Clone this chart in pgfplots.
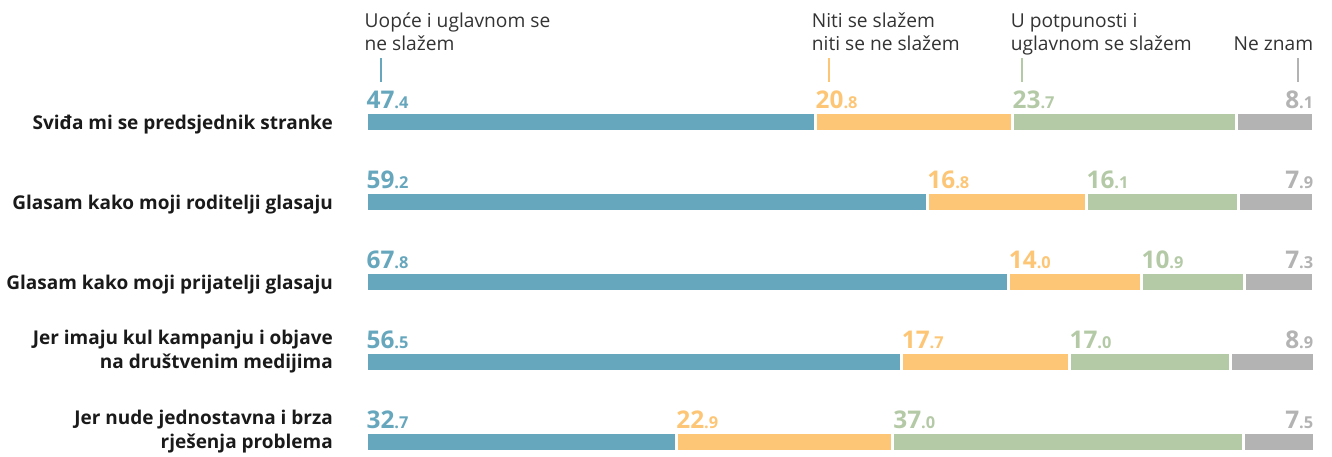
\documentclass[border=0pt]{standalone}
\usepackage{pgfplots}
\pgfplotsset{compat=1.18}
\usepackage{fontspec}
\setmainfont{Open Sans}
\definecolor{cA}{HTML}{67A7BD}
\definecolor{cB}{HTML}{FDC676}
\definecolor{cC}{HTML}{B4C9A6}
\definecolor{cD}{HTML}{B4B3B3}
\definecolor{txt}{HTML}{333333}
\definecolor{catc}{HTML}{1A1A1A}
\newcommand{\vlab}[2]{{\fontsize{12.2}{12}\selectfont\bfseries #1}{\fontsize{8.2}{8}\selectfont\bfseries .#2}}
\begin{document}
\begin{tikzpicture}
\begin{axis}[
  scale only axis, width=666pt, height=228pt,
  xmin=-38.61, xmax=101.9, ymin=-1.525, ymax=4.175, y dir=reverse,
  hide axis, clip=false,
  xbar stacked, bar width=9.5pt,
]
\addplot[fill=cA, draw=white, line width=1.5pt] coordinates {(47.4,0) (59.2,1) (67.8,2) (56.5,3) (32.7,4)};
\addplot[fill=cB, draw=white, line width=1.5pt] coordinates {(20.8,0) (16.8,1) (14.0,2) (17.7,3) (22.9,4)};
\addplot[fill=cC, draw=white, line width=1.5pt] coordinates {(23.7,0) (16.1,1) (10.9,2) (17.0,3) (37.0,4)};
\addplot[fill=cD, draw=white, line width=1.5pt] coordinates {(8.1,0) (7.9,1) (7.3,2) (8.9,3) (7.5,4)};
\draw[white, opacity=0] (rel axis cs:0,0) rectangle (rel axis cs:1,1);
% legend
\node[inner sep=0pt, text=txt, font=\fontsize{9.6}{11.7}\selectfont, anchor=base west] at (axis cs:-0.2,-1.1875) {Uopće i uglavnom se};
\node[inner sep=0pt, text=txt, font=\fontsize{9.6}{11.7}\selectfont, anchor=base west] at (axis cs:-0.2,-0.9) {ne slažem};
\node[inner sep=0pt, text=txt, font=\fontsize{9.6}{11.7}\selectfont, anchor=base west] at (axis cs:47.0,-1.1875) {Niti se slažem};
\node[inner sep=0pt, text=txt, font=\fontsize{9.6}{11.7}\selectfont, anchor=base west] at (axis cs:47.0,-0.9) {niti se ne slažem};
\node[inner sep=0pt, text=txt, font=\fontsize{9.6}{11.7}\selectfont, anchor=base west] at (axis cs:68.0,-1.1875) {U potpunosti i};
\node[inner sep=0pt, text=txt, font=\fontsize{9.6}{11.7}\selectfont, anchor=base west] at (axis cs:68.0,-0.9) {uglavnom se slažem};
\node[inner sep=0pt, text=txt, font=\fontsize{9.6}{11.7}\selectfont, anchor=base east] at (axis cs:100,-0.9) {Ne znam};
\draw[cA, line width=1pt] (axis cs:1.58,-0.8) -- (axis cs:1.58,-0.5);
\draw[cB, line width=1pt] (axis cs:48.8,-0.8) -- (axis cs:48.8,-0.5);
\draw[cC, line width=1pt] (axis cs:69.2,-0.8) -- (axis cs:69.2,-0.5);
\draw[cD, line width=1pt] (axis cs:98.4,-0.8) -- (axis cs:98.4,-0.5);
% category labels
\node[inner sep=0pt, text=catc, font=\fontsize{9.5}{12}\selectfont\bfseries, anchor=base east] at (axis cs:-3.48,0.085) {Sviđa mi se predsjednik stranke};
\node[inner sep=0pt, text=catc, font=\fontsize{9.5}{12}\selectfont\bfseries, anchor=base east] at (axis cs:-3.48,1.085) {Glasam kako moji roditelji glasaju};
\node[inner sep=0pt, text=catc, font=\fontsize{9.5}{12}\selectfont\bfseries, anchor=base east] at (axis cs:-3.48,2.085) {Glasam kako moji prijatelji glasaju};
\node[inner sep=0pt, text=catc, font=\fontsize{9.5}{12}\selectfont\bfseries, anchor=base east] at (axis cs:-3.48,2.785) {Jer imaju kul kampanju i objave};
\node[inner sep=0pt, text=catc, font=\fontsize{9.5}{12}\selectfont\bfseries, anchor=base east] at (axis cs:-3.48,3.085) {na društvenim medijima};
\node[inner sep=0pt, text=catc, font=\fontsize{9.5}{12}\selectfont\bfseries, anchor=base east] at (axis cs:-3.48,3.785) {Jer nude jednostavna i brza};
\node[inner sep=0pt, text=catc, font=\fontsize{9.5}{12}\selectfont\bfseries, anchor=base east] at (axis cs:-3.48,4.085) {rješenja problema};
% value labels
\node[inner sep=0pt, anchor=base west, text=cA] at (axis cs:0,-0.175) {\vlab{47}{4}};
\node[inner sep=0pt, anchor=base west, text=cB] at (axis cs:47.4,-0.175) {\vlab{20}{8}};
\node[inner sep=0pt, anchor=base west, text=cC] at (axis cs:68.2,-0.175) {\vlab{23}{7}};
\node[inner sep=0pt, anchor=base east, text=cD] at (axis cs:100,-0.175) {\vlab{8}{1}};
\node[inner sep=0pt, anchor=base west, text=cA] at (axis cs:0,0.825) {\vlab{59}{2}};
\node[inner sep=0pt, anchor=base west, text=cB] at (axis cs:59.2,0.825) {\vlab{16}{8}};
\node[inner sep=0pt, anchor=base west, text=cC] at (axis cs:76.0,0.825) {\vlab{16}{1}};
\node[inner sep=0pt, anchor=base east, text=cD] at (axis cs:100,0.825) {\vlab{7}{9}};
\node[inner sep=0pt, anchor=base west, text=cA] at (axis cs:0,1.825) {\vlab{67}{8}};
\node[inner sep=0pt, anchor=base west, text=cB] at (axis cs:67.8,1.825) {\vlab{14}{0}};
\node[inner sep=0pt, anchor=base west, text=cC] at (axis cs:81.8,1.825) {\vlab{10}{9}};
\node[inner sep=0pt, anchor=base east, text=cD] at (axis cs:100,1.825) {\vlab{7}{3}};
\node[inner sep=0pt, anchor=base west, text=cA] at (axis cs:0,2.825) {\vlab{56}{5}};
\node[inner sep=0pt, anchor=base west, text=cB] at (axis cs:56.5,2.825) {\vlab{17}{7}};
\node[inner sep=0pt, anchor=base west, text=cC] at (axis cs:74.2,2.825) {\vlab{17}{0}};
\node[inner sep=0pt, anchor=base east, text=cD] at (axis cs:100,2.825) {\vlab{8}{9}};
\node[inner sep=0pt, anchor=base west, text=cA] at (axis cs:0,3.825) {\vlab{32}{7}};
\node[inner sep=0pt, anchor=base west, text=cB] at (axis cs:32.7,3.825) {\vlab{22}{9}};
\node[inner sep=0pt, anchor=base west, text=cC] at (axis cs:55.6,3.825) {\vlab{37}{0}};
\node[inner sep=0pt, anchor=base east, text=cD] at (axis cs:100,3.825) {\vlab{7}{5}};
\end{axis}
\end{tikzpicture}
\end{document}
